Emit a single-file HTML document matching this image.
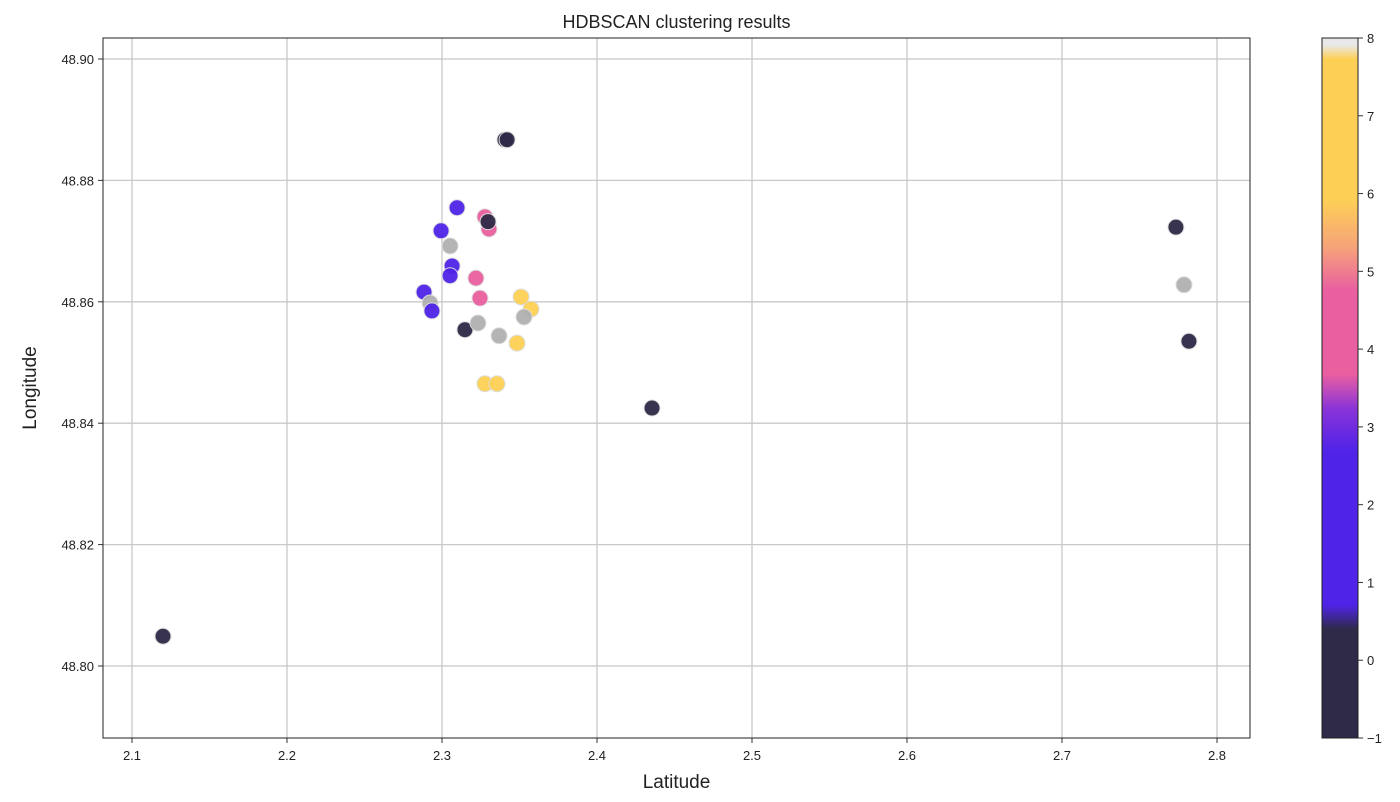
<!DOCTYPE html>
<html><head><meta charset="utf-8"><style>
body{margin:0;background:#fff;font-family:"Liberation Sans","DejaVu Sans",sans-serif}
</style></head><body>
<svg id="chart" width="1400" height="797" xmlns="http://www.w3.org/2000/svg">
<defs><linearGradient id="cbg" x1="0" y1="1" x2="0" y2="0">
<stop offset="0" stop-color="#2e2a47"/><stop offset="0.155" stop-color="#2e2a47"/>
<stop offset="0.19" stop-color="#4f24e8"/><stop offset="0.41" stop-color="#4f24e8"/>
<stop offset="0.47" stop-color="#8a33d8"/><stop offset="0.52" stop-color="#e95fa0"/>
<stop offset="0.64" stop-color="#e95fa0"/><stop offset="0.70" stop-color="#f6a27a"/>
<stop offset="0.77" stop-color="#fdd055"/><stop offset="0.97" stop-color="#fdd055"/>
<stop offset="0.99" stop-color="#e8e8e8"/><stop offset="1" stop-color="#e8e8e8"/>
</linearGradient></defs>
</svg>
<script>
const xs=[2.120,2.3406,2.342,2.3097,2.2994,2.3052,2.3065,2.3052,2.2884,2.2923,2.2935,2.3277,2.3303,2.3297,2.3219,2.3245,2.3148,2.3232,2.3368,2.3510,2.3574,2.3529,2.3484,2.3277,2.3355,2.4355,2.7735,2.7787,2.7819];
const ys=[48.8049,48.8867,48.8867,48.8755,48.8717,48.8692,48.8659,48.8643,48.8616,48.8598,48.8585,48.8740,48.8720,48.8732,48.8639,48.8606,48.8554,48.8565,48.8544,48.8608,48.8588,48.8575,48.8532,48.8465,48.8465,48.8425,48.8723,48.8628,48.8535];
const labels=[-1,-1,-1,2,2,8,2,2,2,8,2,4,4,-1,4,4,-1,8,8,7,7,8,7,7,7,-1,-1,8,-1];
const xTicks=[2.1,2.2,2.3,2.4,2.5,2.6,2.7,2.8];
const yTicks=[48.80,48.82,48.84,48.86,48.88,48.90];
const cTicks=[-1,0,1,2,3,4,5,6,7,8];
const NS="http://www.w3.org/2000/svg",svg=document.getElementById('chart');
const L=103,R=1250,T=38,B=738;
const X=v=>132+(v-2.1)*1550, Y=v=>666-(v-48.80)*6070;
function colorOf(l){if(l<0.5)return '#2e2a47';if(l<3)return '#4f24e8';if(l<3.7)return '#9a3ccc';if(l<5.6)return '#e95fa0';if(l<7.7)return '#fdd055';return '#b0b0b0';}
function el(t,a,p){const e=document.createElementNS(NS,t);for(const k in a)e.setAttribute(k,a[k]);(p||svg).appendChild(e);return e;}
xTicks.forEach(v=>{
 const g=el('line',{x1:X(v),x2:X(v),y1:T,y2:B,stroke:'#c8c8c8','stroke-width':1.3});
 
 el('line',{x1:X(v),x2:X(v),y1:B,y2:B+5,stroke:'#333'});
 const t=el('text',{x:X(v),y:B+22,'text-anchor':'middle','font-size':13,fill:'#222'});t.textContent=v.toFixed(1);
 
});
yTicks.forEach(v=>{
 const g=el('line',{x1:L,x2:R,y1:Y(v),y2:Y(v),stroke:'#c8c8c8','stroke-width':1.3});
 
 el('line',{x1:L-5,x2:L,y1:Y(v),y2:Y(v),stroke:'#333'});
 const t=el('text',{x:L-9,y:Y(v)+5,'text-anchor':'end','font-size':13,fill:'#222'});t.textContent=v.toFixed(2);
 
});
xs.forEach((x,i)=>{
 const c=el('circle',{cx:X(x),cy:Y(ys[i]),r:8,fill:colorOf(labels[i]),stroke:'#ddd','stroke-width':1,opacity:0.95});
 
});
const fr=el('rect',{x:L,y:T,width:R-L,height:B-T,fill:'none',stroke:'#222','stroke-width':1});

let t=el('text',{x:(L+R)/2,y:28,'text-anchor':'middle','font-size':18,fill:'#222'});t.textContent='HDBSCAN clustering results';

t=el('text',{x:(L+R)/2,y:788,'text-anchor':'middle','font-size':19,fill:'#222'});t.textContent='Latitude';

t=el('text',{x:36,y:(T+B)/2,'text-anchor':'middle','font-size':19,fill:'#222',transform:'rotate(-90 36 '+((T+B)/2)+')'});t.textContent='Longitude';

const CL=1322,CW=36,CY=v=>B-(v+1)*(B-T)/9;
const cb=el('rect',{x:CL,y:T,width:CW,height:B-T,fill:'url(#cbg)',stroke:'#222'});

cTicks.forEach(v=>{
 el('line',{x1:CL+CW,x2:CL+CW+5,y1:CY(v),y2:CY(v),stroke:'#333'});
 const tt=el('text',{x:CL+CW+9,y:CY(v)+5,'font-size':13,fill:'#222'});tt.textContent=v<0?'\u2212'+(-v):v;
 
});
</script>
</body></html>
